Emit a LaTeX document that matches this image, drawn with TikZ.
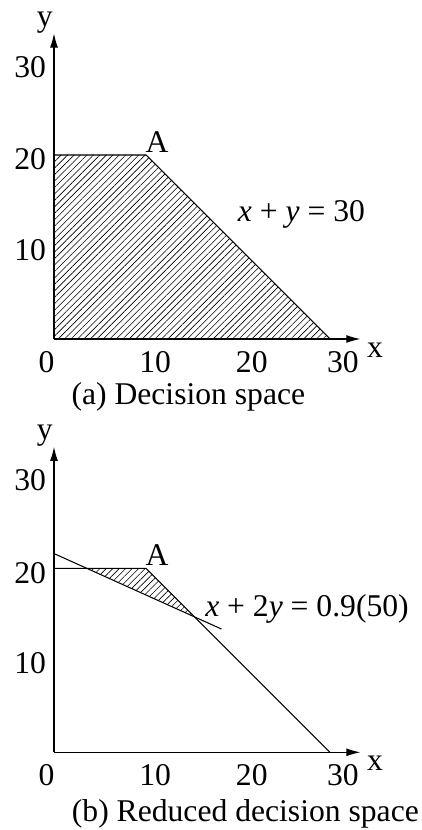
\documentclass[tikz,border=0pt]{standalone}
\usepackage{fontspec}
\setmainfont{Liberation Serif}
\usetikzlibrary{arrows.meta,patterns.meta}

\begin{document}
\begin{tikzpicture}[
  every node/.style={font=\fontsize{18}{21}\selectfont, inner sep=0pt},
  axis/.style={-{Latex[length=8pt,width=4.5pt]}, line width=0.6pt},
  bound/.style={line width=0.6pt},
  hatch/.style={pattern={Lines[angle=45,distance=2.6pt,line width=0.35pt]}},
  x=0.184cm, y=0.184cm
]
  \useasboundingbox (0cm,0cm) rectangle (8.44cm,16.6cm);

  % (a) decision space
  \begin{scope}[shift={(1.08cm,9.82cm)}]
    \coordinate (a0) at (0,0);
    \coordinate (aX) at (33.3,0);
    \coordinate (aY) at (0,33.2);
    \coordinate (aC) at (0,20);
    \coordinate (aA) at (10,20);
    \coordinate (aB) at (30,0);
    \fill[hatch] (a0) -- (aC) -- (aA) -- (aB) -- cycle;
    \draw[bound] (aC) -- (aA) -- (aB);
    \draw[axis] (a0) -- (aX);
    \draw[axis] (a0) -- (aY);
    \node (ax) at (34.9,-1.2) {x};
    \node (ay) at (-1.0,34.4) {y};
    \foreach \t/\p in {0/-0.8,10/11,20/21.5,30/31.4}
      \node (axt\t) at (\p,-2.5) {\t};
    \foreach \t/\p in {10/9.7,20/19.5,30/29.6}
      \node (ayt\t) at (-2.6,\p) {\t};
    \node (alabA) at (11.2,21.4) {A};
    \node (aeq) at (26.9,13.5) {{\itshape x} + {\itshape y} = 30};
    \node (acap) at (14.6,-6.3) {(a) Decision space};
  \end{scope}

  % (b) reduced decision space
  \begin{scope}[shift={(1.08cm,1.554cm)}]
    \coordinate (b0) at (0,0);
    \coordinate (bX) at (33.3,0);
    \coordinate (bY) at (0,33.2);
    \coordinate (bC) at (0,20);
    \coordinate (bA) at (10,20);
    \coordinate (bB) at (30,0);
    \coordinate (bP) at (3.55,20);
    \coordinate (bQ) at (15.3,14.7);
    \coordinate (bL) at (0,21.6);
    \coordinate (bR) at (18.2,13.4);
    \fill[hatch] (bP) -- (bA) -- (bQ) -- cycle;
    \draw[bound] (bC) -- (bA) -- (bB);
    \draw[bound] (bL) -- (bR);
    \draw[axis] (b0) -- (bX);
    \draw[axis] (b0) -- (bY);
    \node (bx) at (34.9,-1.2) {x};
    \node (by) at (-1.0,34.4) {y};
    \foreach \t/\p in {0/-0.8,10/11,20/21.5,30/31.4}
      \node (bxt\t) at (\p,-2.5) {\t};
    \foreach \t/\p in {10/9.7,20/19.5,30/29.6}
      \node (byt\t) at (-2.6,\p) {\t};
    \node (blabA) at (11.2,21.4) {A};
    \node (beq) at (27.5,15.6) {{\itshape x} + 2{\itshape y} = 0.9(50)};
    \node (bcap) at (20.8,-6.7) {(b) Reduced decision space};
  \end{scope}
\end{tikzpicture}
\end{document}
